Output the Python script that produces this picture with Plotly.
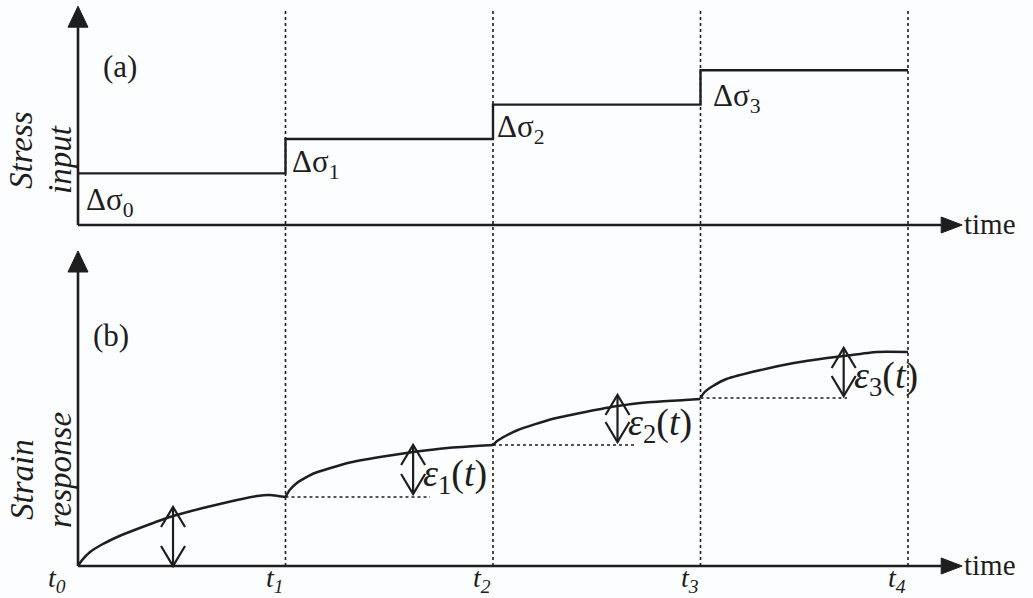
import plotly.graph_objects as go

# Load-step times (t0..t4) and stress increments per step
step_times = [0, 1, 2, 3, 4]
stress_levels = [1.5, 2.5, 3.5, 4.5]
stress_labels = ["Δσ<sub>0</sub>", "Δσ<sub>1</sub>", "Δσ<sub>2</sub>", "Δσ<sub>3</sub>"]
time_labels = ["t<sub>0</sub>", "t<sub>1</sub>", "t<sub>2</sub>", "t<sub>3</sub>", "t<sub>4</sub>"]

# Strain response, one creep branch per load interval
seg0_t = [0, 0.02, 0.058, 0.12, 0.20, 0.285, 0.443, 0.602, 0.766, 0.863, 0.925, 1.0]
seg0_e = [0, 6, 14, 22, 30, 37, 49, 58, 66, 70, 71, 69]
seg1_t = [1.0, 1.02, 1.055, 1.13, 1.30, 1.455, 1.615, 1.78, 2.0]
seg1_e = [69, 76, 83, 92, 103, 109, 114, 118, 121]
seg2_t = [2.0, 2.02, 2.06, 2.12, 2.285, 2.445, 2.60, 2.765, 2.925, 3.0]
seg2_e = [121, 125, 130, 136, 147, 154, 160, 164, 166, 167]
seg3_t = [3.0, 3.02, 3.06, 3.125, 3.29, 3.45, 3.61, 3.69, 3.85, 4.0]
seg3_e = [168, 174, 180, 187, 196, 203, 208, 210, 214, 214]
segments = [(seg0_t, seg0_e), (seg1_t, seg1_e), (seg2_t, seg2_e), (seg3_t, seg3_e)]

# Incremental strain markers: (time, baseline, top) and dotted baseline ends
eps_arrows = [(0.458, 0, 59), (1.615, 72, 121), (2.60, 124, 171), (3.69, 170, 218)]
eps_baseline_end = [None, 1.696, 2.69, 3.706]
eps_labels = [None, "<i>ε</i><sub>1</sub>(<i>t</i>)", "<i>ε</i><sub>2</sub>(<i>t</i>)",
              "<i>ε</i><sub>3</sub>(<i>t</i>)"]

INK = "#1e1e1e"
SERIF = "Liberation Serif, Times New Roman, serif"

fig = go.Figure()

# (a) stress input step history
fig.add_trace(go.Scatter(
    x=step_times, y=stress_levels + [stress_levels[-1]],
    mode="lines", line=dict(color=INK, width=2.4, shape="hv"),
    yaxis="y", hoverinfo="skip"))

# (b) strain response
for ts, es in segments:
    fig.add_trace(go.Scatter(
        x=ts, y=es, mode="lines",
        line=dict(color=INK, width=2.5, shape="spline", smoothing=0.5),
        yaxis="y2", hoverinfo="skip"))

shapes = []
annotations = []

def tri(x, y, yref, direction):
    if direction == "up":
        path = "M -10 0 L 10 0 L 0 21 Z"
    else:
        path = "M 0 -8 L 0 8 L 21 0 Z"
    shapes.append(dict(type="path", xref="x", yref=yref, xsizemode="pixel",
                       ysizemode="pixel", xanchor=x, yanchor=y, path=path,
                       fillcolor=INK, line=dict(color=INK, width=1)))

axis_line = dict(color=INK, width=2.6)
# panel (a) axes
shapes.append(dict(type="line", xref="x", yref="y", x0=0, x1=0, y0=0, y1=5.75, line=axis_line))
shapes.append(dict(type="line", xref="x", yref="y", x0=0, x1=4.16, y0=0, y1=0, line=axis_line))
tri(0, 5.75, "y", "up")
tri(4.16, 0, "y", "right")
# panel (b) axes
shapes.append(dict(type="line", xref="x", yref="y2", x0=0, x1=0, y0=0, y1=294, line=axis_line))
shapes.append(dict(type="line", xref="x", yref="y2", x0=0, x1=4.16, y0=0, y1=0, line=axis_line))
tri(0, 294, "y2", "up")
tri(4.16, 0, "y2", "right")

# vertical dotted guides at each load step
for t in step_times[1:]:
    shapes.append(dict(type="line", xref="x", yref="paper", x0=t, x1=t,
                       y0=1 - 566 / 598, y1=1 - 10 / 598,
                       line=dict(color=INK, width=1.6, dash="dot")))

# double-headed incremental strain arrows with open heads
def chevron(x, y, up):
    s = -1 if up else 1
    path = f"M -12 {s*20} L 0 0 L 12 {s*20}"
    shapes.append(dict(type="path", xref="x", yref="y2", xsizemode="pixel",
                       ysizemode="pixel", xanchor=x, yanchor=y, path=path,
                       line=dict(color=INK, width=2.2)))

for i, (t, lo, hi) in enumerate(eps_arrows):
    shapes.append(dict(type="line", xref="x", yref="y2", x0=t, x1=t, y0=lo, y1=hi,
                       line=dict(color=INK, width=2.2)))
    chevron(t, hi, True)
    chevron(t, lo, False)
    if eps_baseline_end[i] is not None:
        base = segments[i][1][0]
        shapes.append(dict(type="line", xref="x", yref="y2", x0=step_times[i], x1=eps_baseline_end[i],
                           y0=base, y1=base, line=dict(color=INK, width=1.6, dash="dot")))
        annotations.append(dict(x=t, y=(lo + hi) / 2, xref="x", yref="y2", text=eps_labels[i],
                                showarrow=False, xanchor="left", yanchor="middle", xshift=8, yshift=-6,
                                font=dict(family=SERIF, size=38, color=INK)))

# stress increment labels
stress_label_pos = [(0.03, 1.5, -29), (1.02, 2.5, -25), (2.01, 3.5, -24), (3.05, 4.5, -28)]
for (x, y, ys), lab in zip(stress_label_pos, stress_labels):
    annotations.append(dict(x=x, y=y, xref="x", yref="y", text=lab, showarrow=False,
                            xanchor="left", yanchor="middle", yshift=ys,
                            font=dict(family=SERIF, size=31, color=INK)))

# time markers under panel (b)
for i, (t, lab) in enumerate(zip(step_times, time_labels)):
    annotations.append(dict(x=t, y=0, xref="x", yref="y2", text=f"<i>{lab}</i>", showarrow=False,
                            xanchor="center", yanchor="middle", yshift=-13,
                            xshift=(-21 if i == 0 else -11),
                            font=dict(family=SERIF, size=28, color=INK)))

# axis captions
for yr in ("y", "y2"):
    annotations.append(dict(x=4.16, y=0, xref="x", yref=yr, text="time", showarrow=False,
                            xanchor="left", yanchor="middle", xshift=21, yshift=1,
                            font=dict(family=SERIF, size=29, color=INK)))
annotations.append(dict(x=0.2, y=4.6, xref="x", yref="y", text="(a)", showarrow=False,
                        xanchor="center", yanchor="middle",
                        font=dict(family=SERIF, size=31, color=INK)))
annotations.append(dict(x=0.16, y=231, xref="x", yref="y2", text="(b)", showarrow=False,
                        xanchor="center", yanchor="middle",
                        font=dict(family=SERIF, size=31, color=INK)))
side_titles = [("<i>Stress</i>", 21, 150), ("<i>input</i>", 60, 160),
               ("<i>Strain</i>", 22, 480), ("<i>response</i>", 60, 470)]
for txt, px, py in side_titles:
    annotations.append(dict(x=px / 1033, y=1 - py / 598, xref="paper", yref="paper", text=txt,
                            showarrow=False, textangle=-90, xanchor="center", yanchor="middle",
                            font=dict(family=SERIF, size=33, color=INK)))

fig.update_layout(
    width=1033, height=598,
    margin=dict(l=0, r=0, t=0, b=0),
    paper_bgcolor="#fcfdfe", plot_bgcolor="#fcfdfe",
    showlegend=False,
    xaxis=dict(range=[-0.3759, 4.6024], visible=False, fixedrange=True),
    yaxis=dict(range=[-10.843, 6.541], visible=False, fixedrange=True),
    yaxis2=dict(range=[-32, 566], visible=False, overlaying="y", fixedrange=True),
    shapes=shapes, annotations=annotations,
)

fig.write_html("out.html")
